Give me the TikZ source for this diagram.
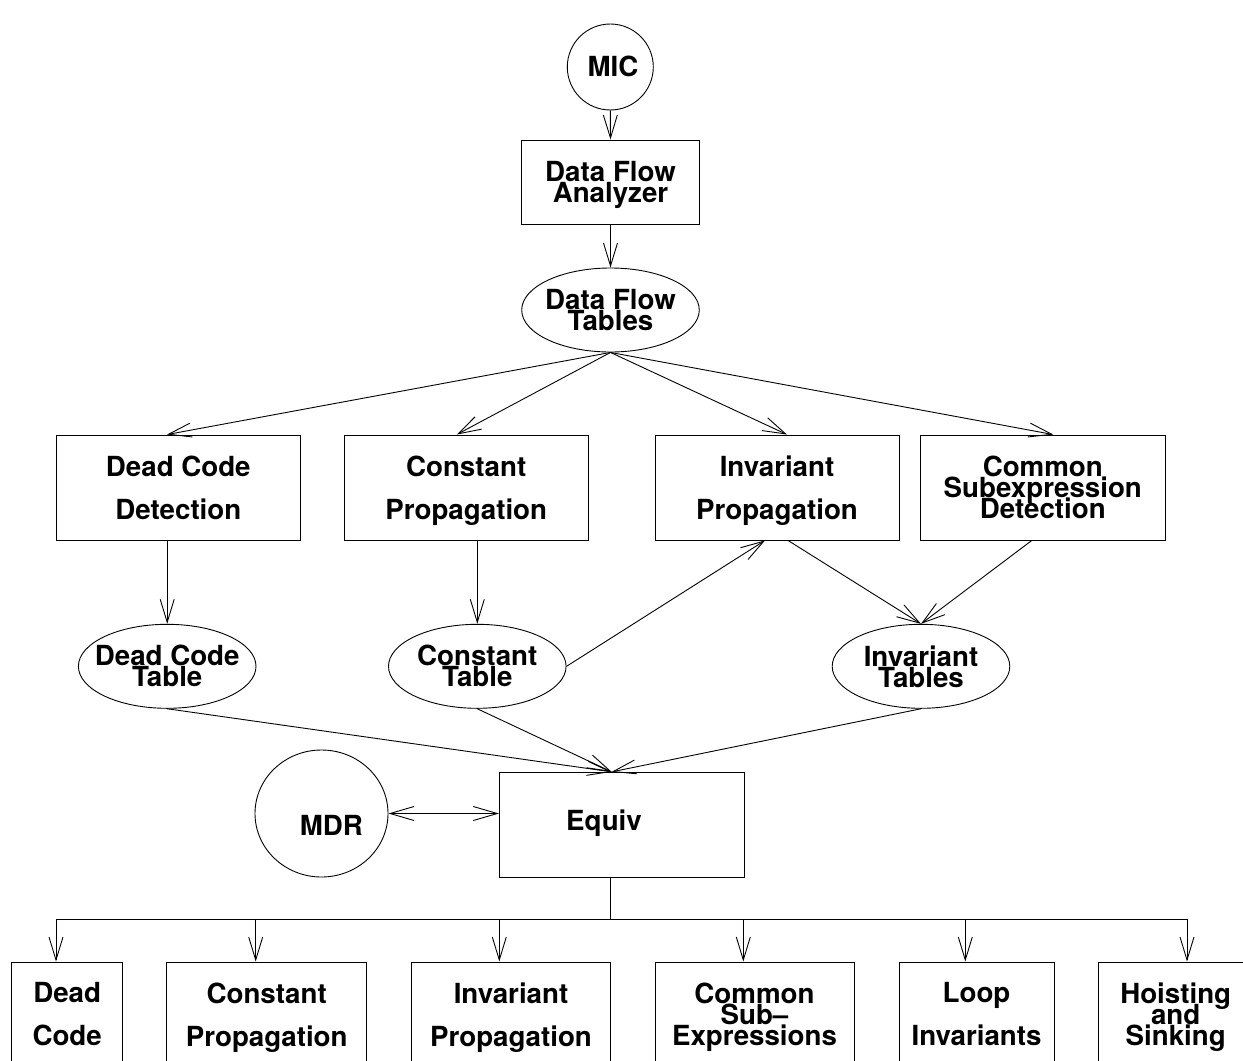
\documentclass[tikz,border=0pt]{standalone}
\usepackage{fontspec}
\setmainfont{TeX Gyre Heros}
\usetikzlibrary{arrows.meta,shapes.geometric}
\newcommand{\nodesc}[1]{\raisebox{0pt}[\height][0pt]{#1}}
\begin{document}
\lineskiplimit=-100pt
\begin{tikzpicture}[x=1bp,y=-1bp,
  line width=0.9bp,
  arr/.style={-{Straight Barb[length=23bp,width=14bp]}},
  darr/.style={{Straight Barb[length=24bp,width=14bp]}-{Straight Barb[length=24bp,width=14bp]}},
  txt/.style={font=\fontsize{27.7bp}{21bp}\selectfont\bfseries, align=center},
  wide/.style={font=\fontsize{27.7bp}{43bp}\selectfont\bfseries, align=center},
  box/.style={draw, rectangle, inner sep=0pt, minimum height=105bp},
  oval/.style={draw, ellipse, inner sep=0pt, minimum width=177.6bp, minimum height=84bp},
]
\useasboundingbox (0,0) rectangle (1243,1061);
\fill[white] (0,0) rectangle (1243,1061);
\clip (0,0) rectangle (1243,1061);

% top chain
\node[draw, circle, inner sep=0pt, minimum size=86bp,
      label={[txt,xshift=2.7bp,yshift=1bp,name=micl]center:MIC}] (mic) at (610.3,67) {};
\node[box, minimum width=177.6bp, minimum height=84bp, txt] (dfa) at (610.5,182) {Data Flow\\\nodesc{Analyzer}};
\node[oval, label={[txt,name=dftl]center:{Data Flow\\Tables}}] (dft) at (610.5,310) {};

% analysis row
\node[box, minimum width=244.5bp, wide] (dcd) at (178.3,487.5) {Dead Code\\Detection};
\node[box, minimum width=244.3bp, wide] (cp) at (466.2,487.5) {Constant\\\nodesc{Propagation}};
\node[box, minimum width=244bp, wide] (ip) at (777,487.5) {Invariant\\\nodesc{Propagation}};
\node[box, minimum width=244.3bp, txt] (cs) at (1042.8,487.5) {Common\\Subexpression\\Detection};

% tables
\node[oval, label={[txt,name=dctl]center:{Dead Code\\Table}}] (dct) at (167.2,666.3) {};
\node[oval, label={[txt,name=ctl]center:{Constant\\Table}}] (ct) at (477.3,666.3) {};
\node[oval, label={[txt,name=itl]center:{Invariant\\Tables}}] (it) at (921,666.3) {};

% equiv and MDR
\node[box, minimum width=244.7bp,
      label={[txt,xshift=-17.7bp,yshift=1.6bp,name=equivl]center:Equiv}] (equiv) at (621.7,824.8) {};
\node[draw, ellipse, inner sep=0pt, minimum width=133bp, minimum height=127bp,
      label={[txt,xshift=9.9bp,yshift=-11.8bp,name=mdrl]center:MDR}] (mdr) at (321.5,813.5) {};

% bottom row
\node[box, minimum width=111bp, wide] (b1) at (67.2,1014.5) {Dead\\Code};
\node[box, minimum width=200bp, wide] (b2) at (266.7,1014.5) {Constant\\\nodesc{Propagation}};
\node[box, minimum width=198.6bp, wide] (b3) at (511,1014.5) {Invariant\\\nodesc{Propagation}};
\node[box, minimum width=199bp, txt] (b4) at (754.5,1014.5) {Common\\Sub–\\\nodesc{Expressions}};
\node[box, minimum width=155bp, wide] (b5) at (976.5,1014.5) {Loop\\Invariants};
\node[box, minimum width=155bp, txt] (b6) at (1175.7,1014.5) {Hoisting\\and\\\nodesc{Sinking}};

% connectors
\draw[arr] (mic.south) -- (dfa.north);
\draw[arr] (dfa.south) -- (dft.north);
\draw[arr] (dft.south) -- ([xshift=-11.3bp]dcd.north);
\draw[arr] (dft.south) -- ([xshift=-9.5bp]cp.north);
\draw[arr] (dft.south) -- ([xshift=10bp]ip.north);
\draw[arr] (dft.south) -- ([xshift=10.5bp]cs.north);
\draw[arr] (dct.north |- dcd.south) -- (dct.north);
\draw[arr] (ct.north |- cp.south) -- (ct.north);
\draw[arr] (ct.east) -- ([xshift=-12bp]ip.south);
\draw[arr] ([xshift=11bp]ip.south) -- (it.north);
\draw[arr] ([xshift=-11bp]cs.south) -- (it.north);
\draw[arr] (dct.south) -- ([xshift=-10bp]equiv.north);
\draw[arr] (ct.south) -- ([xshift=-10bp]equiv.north);
\draw[arr] (it.south) -- ([xshift=-10bp]equiv.north);
\draw[darr] (mdr.east) -- (mdr.east -| equiv.west);

% distribution bus
\coordinate (busL) at (56,919.3);
\coordinate (busR) at (1187,919.3);
\draw ([xshift=-11bp]equiv.south) -- ([xshift=-11bp]equiv.south |- busL);
\draw (busL) -- (busR);
\draw[arr] ([xshift=-11.2bp]b1.north |- busL) -- ([xshift=-11.2bp]b1.north);
\draw[arr] ([xshift=-11bp]b2.north |- busL) -- ([xshift=-11bp]b2.north);
\draw[arr] ([xshift=-11.7bp]b3.north |- busL) -- ([xshift=-11.7bp]b3.north);
\draw[arr] ([xshift=-11.2bp]b4.north |- busL) -- ([xshift=-11.2bp]b4.north);
\draw[arr] ([xshift=-11.2bp]b5.north |- busL) -- ([xshift=-11.2bp]b5.north);
\draw[arr] ([xshift=11.3bp]b6.north |- busL) -- ([xshift=11.3bp]b6.north);
\end{tikzpicture}
\end{document}
